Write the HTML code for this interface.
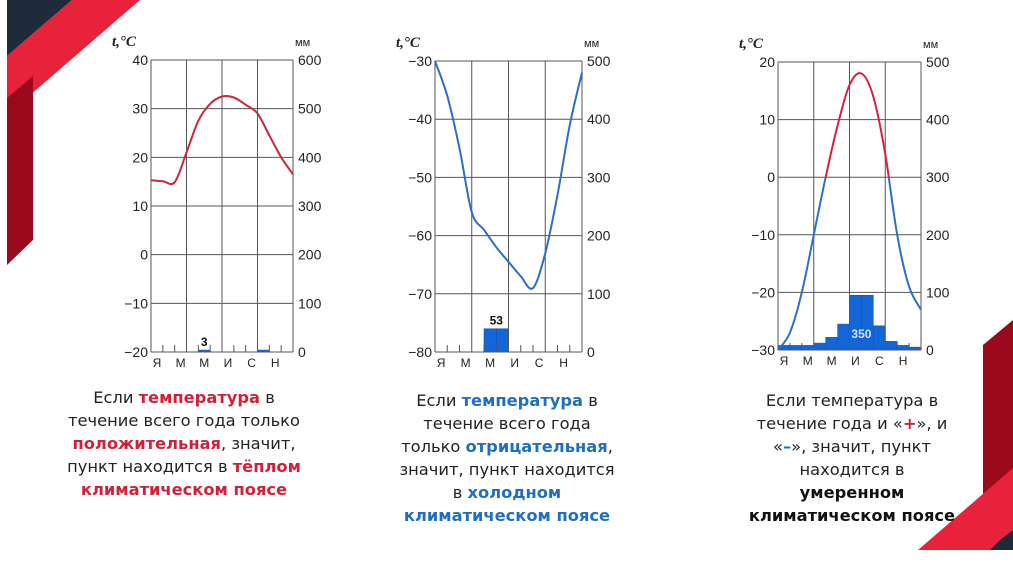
<!DOCTYPE html>
<html><head><meta charset="utf-8">
<style>
body{margin:0;width:1013px;height:570px;background:#fff;overflow:hidden;position:relative;font-family:"DejaVu Sans","Liberation Sans",sans-serif}
svg{position:absolute;left:0;top:0}
.cap{position:absolute;text-align:center;font-size:16.3px;line-height:23px;color:#222;white-space:nowrap}
.r{color:#d3203a;font-weight:bold}.b{color:#1e6fc0;font-weight:bold}.k{font-weight:bold;color:#111}
</style></head><body>
<svg width="1013" height="570">
<polygon points="7,0 72,0 7,56" fill="#1f2a3a"/>
<polygon points="72,0 140,0 7,115 7,56" fill="#e8223a"/>
<polygon points="7,98 33,76 33,240 7,265" fill="#9a0a1c"/>
<polygon points="983,345 1013,320 1013,472 983,500" fill="#9a0a1c"/>
<polygon points="918,550 1013,468 1013,550" fill="#e8223a"/>
<polygon points="1000,540 1013,530 1013,550 990,550" fill="#1f2a3a"/>
</svg>
<svg id="c" width="1013" height="570"></svg>
<div class="cap" style="left:34px;top:386px;width:300px">Если <span class="r">температура</span> в<br>течение всего года только<br><span class="r">положительная</span>, значит,<br>пункт находится в <span class="r">тёплом</span><br><span class="r">климатическом поясе</span></div>
<div class="cap" style="left:357px;top:389px;width:300px">Если <span class="b">температура</span> в<br>течение всего года<br>только <span class="b">отрицательная</span>,<br>значит, пункт находится<br>в <span class="b">холодном</span><br><span class="b">климатическом поясе</span></div>
<div class="cap" style="left:702px;top:389px;width:300px">Если температура в<br>течение года и «<span class="r">+</span>», и<br>«<span class="b">–</span>», значит, пункт<br>находится в<br><span class="k">умеренном</span><br><span class="k">климатическом поясе</span></div>
<script>
const months=["Я","М","М","И","С","Н"];
const temp1=[15.3,15.1,14.9,21,27.5,31,32.5,32.3,30.8,29,24.5,20,16.5];
const temp2=[-30,-36,-45,-56,-59,-62,-64.5,-67,-69,-63,-53,-41,-32];
const temp3=[-30,-27,-20,-10,0,9,16,18,14,4,-10,-19,-23];
const prec1=[0,0,0,0,4,0,0,0,0,4,0,0];
const prec2=[0,0,0,0,40,40,0,0,0,0,0,0];
const prec3=[8,8,8,12,22,45,95,95,42,15,8,5];
const label1="3",label2="53",label3="350";
const tTicks1=[40,30,20,10,0,-10,-20],pTicks1=[600,500,400,300,200,100,0];
const tTicks2=[-30,-40,-50,-60,-70,-80],pTicks2=[500,400,300,200,100,0];
const tTicks3=[20,10,0,-10,-20,-30],pTicks3=[500,400,300,200,100,0];
const NS="http://www.w3.org/2000/svg",svg=document.getElementById('c');
function mk(t,a,p){const e=document.createElementNS(NS,t);for(const k in a)e.setAttribute(k,a[k]);(p||svg).appendChild(e);return e;}
function smooth(pts){let d='M'+pts[0][0].toFixed(1)+','+pts[0][1].toFixed(1);
 for(let i=0;i<pts.length-1;i++){const p0=pts[Math.max(0,i-1)],p1=pts[i],p2=pts[i+1],p3=pts[Math.min(pts.length-1,i+2)];
 const c1=[p1[0]+(p2[0]-p0[0])/6,p1[1]+(p2[1]-p0[1])/6],c2=[p2[0]-(p3[0]-p1[0])/6,p2[1]-(p3[1]-p1[1])/6];
 d+='C'+c1.map(v=>v.toFixed(1))+' '+c2.map(v=>v.toFixed(1))+' '+p2.map(v=>v.toFixed(1));}
 return d;}
function chart(id,L,R,T,B,tT,pT,temp,prec,lab,mode){
 const g=mk('g',{});
 
 
 const tMax=tT[0],tMin=tT[tT.length-1],pMax=pT[0];
 const y=v=>T+(tMax-v)/(tMax-tMin)*(B-T);
 const yp=v=>B-v/pMax*(B-T);
 const mw=(R-L)/12,x=i=>L+i*mw;
 prec.forEach((v,i)=>{if(v>0){const r=mk('rect',{x:x(i),y:yp(v),width:mw,height:B-yp(v),fill:'#1466d6',stroke:'#0d4fa8','stroke-width':0.5},g);
 
 }});
 tT.forEach(v=>mk('line',{x1:L,x2:R,y1:y(v),y2:y(v),stroke:'#555','stroke-width':1},g));
 for(let k=0;k<=4;k++)mk('line',{x1:x(k*3),x2:x(k*3),y1:T,y2:B,stroke:'#555','stroke-width':1},g);
 for(let i=1;i<12;i++)if(i%3)mk('line',{x1:x(i),x2:x(i),y1:B-7,y2:B,stroke:'#555','stroke-width':1},g);
 tT.forEach(v=>{const t=mk('text',{x:L-3,y:y(v)+5,'text-anchor':'end','font-size':14,fill:'#222','font-family':'Liberation Sans'},g);t.textContent=v<0?'−'+(-v):v;});
 pT.forEach((v,i)=>{const t=mk('text',{x:R+5,y:y(tT[i])+5,'font-size':14,fill:'#222','font-family':'Liberation Sans'},g);t.textContent=v;});
 months.forEach((m,i)=>{const t=mk('text',{x:x(i*2+0.5),y:B+15,'text-anchor':'middle','font-size':12,fill:'#222','font-family':'Liberation Sans'},g);t.textContent=m;});
 let t=mk('text',{x:L-39,y:T-14,'font-size':15,'font-style':'italic','font-weight':'bold','font-family':'Liberation Serif',fill:'#222'},g);t.textContent='t,°C';
 t=mk('text',{x:R+2,y:T-14,'font-size':11,'font-family':'Liberation Sans',fill:'#222'},g);t.textContent='мм';
 const d=smooth(temp.map((v,i)=>[x(i),y(v)]));
 if(mode==='split'){
  const cid=id+'-clip';const cp=mk('clipPath',{id:cid},g);mk('rect',{x:L-5,y:T-5,width:R-L+10,height:y(0)-T+5},cp);
  const c2=id+'-clip2';const cp2=mk('clipPath',{id:c2},g);mk('rect',{x:L-5,y:y(0),width:R-L+10,height:B-y(0)+5},cp2);
  const l1=mk('path',{d:d,fill:'none',stroke:'#d9203a','stroke-width':2,'clip-path':'url(#'+cid+')'},g);
  
  
  const l2=mk('path',{d:d,fill:'none',stroke:'#2a72c8','stroke-width':2,'clip-path':'url(#'+c2+')'},g);
  
  
 }else{
  const l=mk('path',{d:d,fill:'none',stroke:mode,'stroke-width':2},g);
  
  
 }
 let mi=0;prec.forEach((v,i)=>{if(v>prec[mi])mi=i;});
 if(id==='chart-temperate'){t=mk('text',{x:x(7),y:B-12,'text-anchor':'middle','font-size':12,'font-weight':'bold',fill:'#cfe3ff','font-family':'Liberation Sans'},g);}
 else{const cx=id==='chart-cold'?x(5):x(mi+0.5);t=mk('text',{x:cx,y:yp(prec[mi])-4,'text-anchor':'middle','font-size':12,'font-weight':'bold',fill:'#111','font-family':'Liberation Sans'},g);}
 t.textContent=lab;
}
chart('chart-warm',151,293,60,352,tTicks1,pTicks1,temp1,prec1,label1,'#c8283a');
chart('chart-cold',435,582,61,352,tTicks2,pTicks2,temp2,prec2,label2,'#2a6fc4');
chart('chart-temperate',778,921,62,350,tTicks3,pTicks3,temp3,prec3,label3,'split');
</script>
</body></html>
